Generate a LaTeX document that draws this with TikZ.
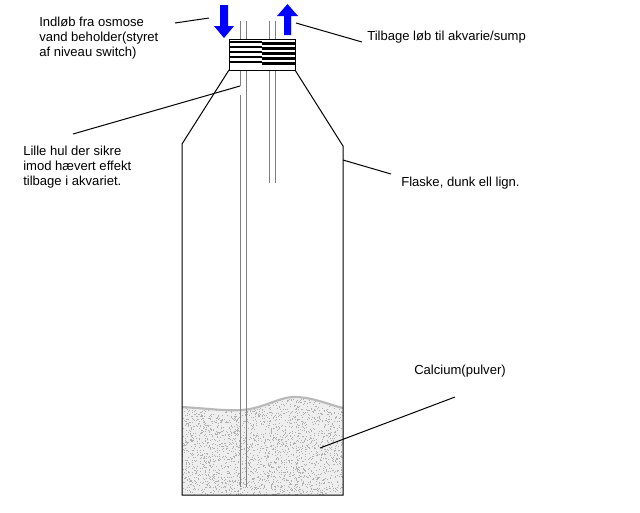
\documentclass[tikz,border=0pt]{standalone}
\usepackage{fontspec}
\setmainfont{Liberation Sans}
\begin{document}
\begin{tikzpicture}[x=0.75pt,y=-0.75pt,
  lbl/.style={inner sep=0pt,font=\fontsize{9.8pt}{11.4pt}\selectfont,align=left},
  leader/.style={draw=black,line width=0.75pt},
  pipe/.style={draw=gray,line width=0.75pt},
  outline/.style={draw=black,line width=0.75pt},
  stripe/.style={draw=black,line width=1.9pt},
  flowarrow/.style={fill={rgb,255:red,0;green,0;blue,255},draw=none}]
\useasboundingbox[fill=white] (0,0) rectangle (640,512);
\definecolor{powder}{RGB}{238,238,238}
\definecolor{powderdot}{RGB}{175,175,175}
\definecolor{waveline}{RGB}{185,185,185}

% calcium powder
\begin{scope}
\clip (182,407) .. controls (215,409) and (232,412) .. (250,409)
  .. controls (270,405) and (282,396) .. (297,397)
  .. controls (315,398) and (330,405) .. (343,408)
  -- (343,495) -- (182,495) -- cycle;
\fill[powder] (180,390) rectangle (345,497);
\pgfmathsetseed{7}
\foreach \i in {1,...,2800}{
  \fill[powderdot] ({182+161*rnd},{395+100*rnd}) rectangle +(1,1);
}
\end{scope}
\draw[waveline,line width=1.6pt] (182,407) .. controls (215,409) and (232,412) .. (250,409)
  .. controls (270,405) and (282,396) .. (297,397)
  .. controls (315,398) and (330,405) .. (343,408);

% pipes
\draw[pipe] (240,21) -- (240,86) (240,95) -- (240,487);
\draw[pipe] (246,21) -- (246,487);
\draw[pipe] (269,21) -- (269,183);
\draw[pipe] (275,21) -- (275,183);

% bottle
\draw[outline] (229,70) -- (182,144) -- (182,495) -- (343,495) -- (343,146) -- (295,70);

% cap
\node[draw=black,line width=0.75pt,fill=white,minimum width=66*0.75pt,minimum height=31*0.75pt,inner sep=0pt,anchor=north west] (cap) at (229,39) {};
\foreach \y in {42,47,52,57,62}{
  \draw[stripe] (229,\y) -- (262,\y);
  \draw[stripe] (262,\y+1.3) -- (295,\y+1.3);
}

% arrows
\fill[flowarrow] (220,5) -- (228,5) -- (228,26) -- (234,26) -- (224,38) -- (214,26) -- (220,26) -- cycle;
\fill[flowarrow] (284,35) -- (291,35) -- (291,16) -- (298,16) -- (287.5,4) -- (277,16) -- (284,16) -- cycle;

% labels
\node[lbl,anchor=north west] (inlet) at (39,16.5) {Indløb fra osmose\\vand beholder(styret\\af niveau switch)};
\node[lbl,anchor=base west] (outlet) at (367,40.5) {Tilbage løb til akvarie/sump};
\node[lbl,anchor=north west] (hole) at (23,145.5) {Lille hul der sikre\\imod hævert effekt\\tilbage i akvariet.};
\node[lbl,anchor=base west] (bottle) at (401,186.5) {Flaske, dunk ell lign.};
\node[lbl,anchor=base west] (calcium) at (414,374.5) {Calcium(pulver)};

% leader ends
\coordinate (inletA) at (175,23);
\coordinate (inletB) at (209,18);
\coordinate (outletA) at (296,23);
\coordinate (outletB) at (362,42);
\coordinate (holeA) at (73,134);
\coordinate (holeB) at (240,86);
\coordinate (bottleA) at (343,160);
\coordinate (bottleB) at (391,174);
\coordinate (calcA) at (320,448);
\coordinate (calcB) at (455,397);
\draw[leader] (inletA) -- (inletB);
\draw[leader] (outletA) -- (outletB);
\draw[leader] (holeA) -- (holeB);
\draw[leader] (bottleA) -- (bottleB);
\draw[leader] (calcA) -- (calcB);
\end{tikzpicture}
\end{document}
